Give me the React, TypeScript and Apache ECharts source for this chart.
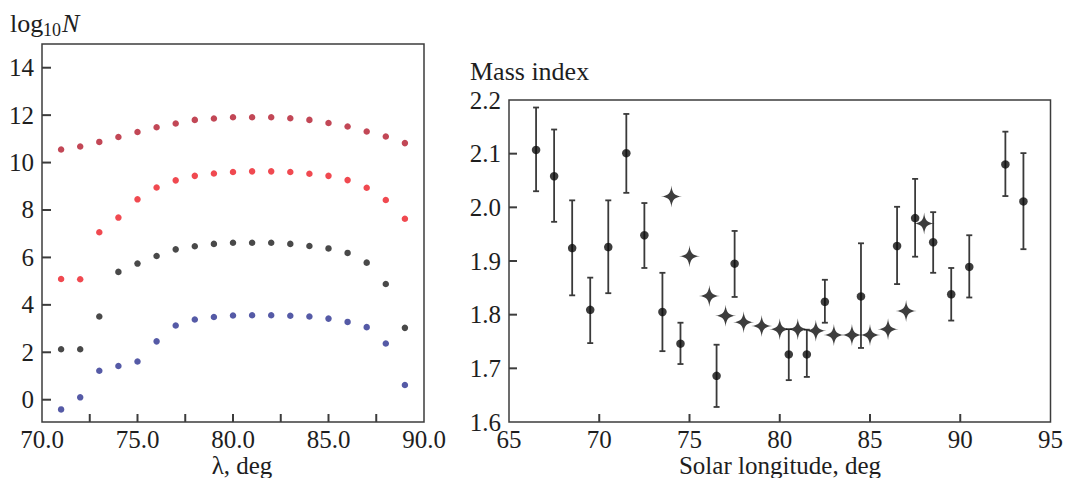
import React, { useEffect, useRef } from "react";
import * as echarts from "echarts";

// Left panel: log10 N versus solar longitude λ for four model curves
const lambdaDeg = [71, 72, 73, 74, 75, 76, 77, 78, 79, 80, 81, 82, 83, 84, 85, 86, 87, 88, 89];
const logNDarkRed = [10.55, 10.68, 10.87, 11.08, 11.29, 11.49, 11.65, 11.8, 11.86, 11.91, 11.91, 11.91, 11.87, 11.8, 11.67, 11.52, 11.31, 11.1, 10.82];
const logNRed = [5.09, 5.08, 7.06, 7.68, 8.45, 8.95, 9.25, 9.44, 9.54, 9.6, 9.63, 9.63, 9.6, 9.53, 9.44, 9.26, 8.94, 8.42, 7.63];
const logNBlack = [2.13, 2.13, 3.51, 5.39, 5.74, 6.06, 6.34, 6.47, 6.57, 6.62, 6.62, 6.62, 6.57, 6.48, 6.38, 6.19, 5.78, 4.88, 3.03];
const logNBlue = [-0.41, 0.1, 1.22, 1.42, 1.61, 2.46, 3.13, 3.38, 3.49, 3.55, 3.56, 3.56, 3.54, 3.51, 3.42, 3.28, 3.06, 2.37, 0.62];
const leftXLabels = [70, 75, 80, 85, 90];
const leftXTicks = [72.5, 75, 77.5, 80, 82.5, 85, 87.5];
const leftYTicks = [0, 2, 4, 6, 8, 10, 12, 14];

// Right panel: mass index versus solar longitude
const obsLongitude = [66.5, 67.5, 68.5, 69.5, 70.5, 71.5, 72.5, 73.5, 74.5, 76.5, 77.5, 80.5, 81.5, 82.5, 84.5, 86.5, 87.5, 88.5, 89.5, 90.5, 92.5, 93.5];
const obsIndex = [2.107, 2.058, 1.924, 1.809, 1.926, 2.101, 1.948, 1.805, 1.746, 1.686, 1.895, 1.726, 1.726, 1.824, 1.834, 1.928, 1.98, 1.935, 1.838, 1.889, 2.08, 2.011];
const obsLow = [2.03, 1.973, 1.836, 1.747, 1.84, 2.027, 1.887, 1.732, 1.708, 1.628, 1.833, 1.678, 1.684, 1.785, 1.738, 1.857, 1.908, 1.878, 1.789, 1.832, 2.021, 1.922];
const obsHigh = [2.186, 2.145, 2.013, 1.869, 2.013, 2.174, 2.008, 1.878, 1.785, 1.744, 1.956, 1.773, 1.772, 1.865, 1.933, 2.001, 2.053, 1.991, 1.887, 1.948, 2.141, 2.101];
const modelLongitude = [74, 75, 76.1, 77, 78, 79, 80, 81, 82, 83, 84, 85, 86, 87, 88];
const modelIndex = [2.02, 1.909, 1.835, 1.798, 1.786, 1.779, 1.773, 1.773, 1.77, 1.762, 1.762, 1.762, 1.773, 1.807, 1.97];
const rightXTicks = [70, 75, 80, 85, 90];
const rightYTicks = [1.7, 1.8, 1.9, 2.0, 2.1];

const FONT = "Liberation Serif";
const TEXT = "#1e1e1e";
const FRAME = "#3c3c3c";
const TICK_SIZE = 25;
const TITLE_SIZE = 25;

const STAR =
  "path://M0,-10 C0.6,-3 3,-0.6 10,0 C3,0.6 0.6,3 0,10 C-0.6,3 -3,0.6 -10,0 C-3,-0.6 -0.6,-3 0,-10 Z";

export default function App() {
  const ref = useRef<HTMLDivElement>(null);

  useEffect(() => {
    if (!ref.current) return;
    const chart = echarts.init(ref.current, undefined, { renderer: "svg" });

    const pts = (ys: number[]) => lambdaDeg.map((x, i) => [x, ys[i]]);
    const dotSeries = (ys: number[], color: string) => ({
      type: "scatter",
      xAxisIndex: 0,
      yAxisIndex: 0,
      data: pts(ys),
      symbol: "circle",
      symbolSize: 6.5,
      itemStyle: { color },
    });

    const label = (values: number[] | undefined, fmt: (v: number) => string) => ({
      color: TEXT,
      fontFamily: FONT,
      fontSize: TICK_SIZE,
      margin: 5,
      ...(values ? { customValues: values } : {}),
      formatter: fmt,
    });

    const errData = obsLongitude.map((x, i) => [x, obsLow[i], obsHigh[i]]);

    chart.setOption({
      animation: false,
      backgroundColor: "#fff",
      textStyle: { fontFamily: FONT },
      grid: [
        { left: 42, top: 44, width: 382, bottom: 56, show: true, borderColor: FRAME, borderWidth: 1.5, backgroundColor: "transparent" },
        { left: 509, top: 100, right: 14, bottom: 56, show: true, borderColor: FRAME, borderWidth: 1.5, backgroundColor: "transparent" },
      ],
      xAxis: [
        {
          gridIndex: 0,
          type: "value",
          min: 70,
          max: 90,
          axisLine: { show: false },
          splitLine: { show: false },
          axisTick: { show: false },
          axisLabel: label(leftXLabels, (v) => Number(v).toFixed(1)),
        },
        {
          gridIndex: 1,
          type: "value",
          min: 65,
          max: 95,
          interval: 5,
          axisLine: { show: false },
          splitLine: { show: false },
          axisTick: { show: false },
          axisLabel: label(undefined, (v) => String(v)),
        },
      ],
      yAxis: [
        {
          gridIndex: 0,
          type: "value",
          min: -0.94,
          max: 15,
          axisLine: { show: false },
          splitLine: { show: false },
          axisTick: { show: false },
          axisLabel: { ...label(leftYTicks, (v) => String(v)), margin: 8 },
        },
        {
          gridIndex: 1,
          type: "value",
          min: 1.6,
          max: 2.2,
          interval: 0.1,
          axisLine: { show: false },
          splitLine: { show: false },
          axisTick: { show: false },
          axisLabel: { ...label(undefined, (v) => Number(v).toFixed(1)), margin: 8 },
        },
      ],
      series: [
        dotSeries(logNDarkRed, "#b3192c"),
        dotSeries(logNRed, "#ec1c24"),
        dotSeries(logNBlack, "#1c1c1c"),
        dotSeries(logNBlue, "#2a3190"),
        {
          type: "custom",
          xAxisIndex: 1,
          yAxisIndex: 1,
          data: errData,
          z: 2,
          renderItem: (params: any, api: any) => {
            const top = api.coord([api.value(0), api.value(2)]);
            const bot = api.coord([api.value(0), api.value(1)]);
            const cap = 3;
            const st = { stroke: "#3a3a3a", lineWidth: 1.8 };
            return {
              type: "group",
              children: [
                { type: "line", shape: { x1: top[0], y1: top[1], x2: bot[0], y2: bot[1] }, style: st },
                { type: "line", shape: { x1: top[0] - cap, y1: top[1], x2: top[0] + cap, y2: top[1] }, style: st },
                { type: "line", shape: { x1: bot[0] - cap, y1: bot[1], x2: bot[0] + cap, y2: bot[1] }, style: st },
              ],
            };
          },
        },
        {
          type: "scatter",
          xAxisIndex: 1,
          yAxisIndex: 1,
          z: 3,
          data: obsLongitude.map((x, i) => [x, obsIndex[i]]),
          symbol: "circle",
          symbolSize: 8.5,
          itemStyle: { color: "#0d0d0d" },
        },
        {
          type: "scatter",
          xAxisIndex: 1,
          yAxisIndex: 1,
          z: 4,
          data: modelLongitude.map((x, i) => [x, modelIndex[i]]),
          symbol: STAR,
          symbolSize: [21, 22],
          itemStyle: { color: "#0d0d0d" },
        },
      ],
    });

    // Inward tick marks, placed through each axis's own scale
    const tickStyle = { stroke: FRAME, lineWidth: 2 };
    const xTicks = (axis: number, yAxis: number, yMin: number, values: number[], len: number) => {
      const yPix = chart.convertToPixel({ yAxisIndex: yAxis }, yMin) as number;
      return values.map((v) => {
        const x = chart.convertToPixel({ xAxisIndex: axis }, v) as number;
        return { type: "line", silent: true, z: 10, shape: { x1: x, y1: yPix, x2: x, y2: yPix - len }, style: tickStyle };
      });
    };
    const yTicks = (axis: number, xAxis: number, xMin: number, values: number[], len: number) => {
      const xPix = chart.convertToPixel({ xAxisIndex: xAxis }, xMin) as number;
      return values.map((v) => {
        const y = chart.convertToPixel({ yAxisIndex: axis }, v) as number;
        return { type: "line", silent: true, z: 10, shape: { x1: xPix, y1: y, x2: xPix + len, y2: y }, style: tickStyle };
      });
    };

    chart.setOption({
      graphic: [
        ...xTicks(0, 0, -0.94, leftXTicks, 8),
        ...yTicks(0, 0, 70, leftYTicks, 9),
        ...xTicks(1, 1, 1.6, rightXTicks, 8),
        ...yTicks(1, 1, 65, rightYTicks, 8),
        { type: "text", x: 10, y: 23, style: { text: "log", fontFamily: FONT, fontSize: 26, fill: TEXT, verticalAlign: "middle" } },
        { type: "text", x: 43, y: 30, style: { text: "10", fontFamily: FONT, fontSize: 18, fill: TEXT, verticalAlign: "middle" } },
        { type: "text", x: 62, y: 23, style: { text: "N", fontFamily: FONT, fontSize: 26, fontStyle: "italic", fill: TEXT, verticalAlign: "middle" } },
        { type: "text", x: 470, y: 71, style: { text: "Mass index", fontFamily: FONT, fontSize: 26, fill: TEXT, verticalAlign: "middle" } },
        { type: "text", x: 242, y: 465.5, style: { text: "λ, deg", fontFamily: FONT, fontSize: TITLE_SIZE, fill: TEXT, align: "center", verticalAlign: "middle" } },
        { type: "text", x: 780, y: 465.5, style: { text: "Solar longitude, deg", fontFamily: FONT, fontSize: TITLE_SIZE, fill: TEXT, align: "center", verticalAlign: "middle" } },
      ],
    });

    return () => chart.dispose();
  }, []);

  return (
    <div
      ref={ref}
      style={{ position: "fixed", left: 0, top: 0, width: 1066, height: 478, background: "#fff" }}
    />
  );
}
